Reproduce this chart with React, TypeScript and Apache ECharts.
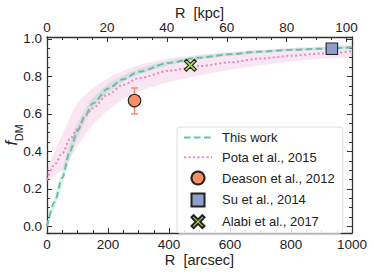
import React, { useEffect, useRef } from 'react';
import * as echarts from 'echarts';

// R grid in arcsec
const R_ARCSEC = [0, 25, 50, 75, 100, 125, 150, 200, 250, 300, 400, 500, 600, 700, 800, 900, 1000];
// "This work" median and band
const THIS_WORK = [0.0, 0.13, 0.26, 0.4, 0.51, 0.59, 0.655, 0.735, 0.785, 0.825, 0.872, 0.9, 0.918, 0.932, 0.942, 0.948, 0.955];
const THIS_WORK_LO = [0.0, 0.1, 0.22, 0.36, 0.47, 0.56, 0.63, 0.715, 0.77, 0.81, 0.86, 0.89, 0.91, 0.925, 0.935, 0.942, 0.949];
const THIS_WORK_HI = [0.025, 0.16, 0.3, 0.44, 0.55, 0.625, 0.685, 0.76, 0.805, 0.84, 0.885, 0.91, 0.926, 0.939, 0.949, 0.954, 0.96];
// Pota et al. 2015 median and band
const POTA = [0.25, 0.33, 0.39, 0.465, 0.52, 0.59, 0.63, 0.705, 0.755, 0.79, 0.83, 0.855, 0.875, 0.895, 0.91, 0.922, 0.934];
const POTA_LO = [0.235, 0.27, 0.3, 0.36, 0.43, 0.49, 0.54, 0.62, 0.68, 0.72, 0.77, 0.805, 0.835, 0.86, 0.88, 0.895, 0.907];
const POTA_HI = [0.3, 0.4, 0.49, 0.58, 0.655, 0.7, 0.735, 0.79, 0.83, 0.86, 0.895, 0.915, 0.93, 0.942, 0.952, 0.958, 0.965];
// Single measurements: [R arcsec, fDM]
const DEASON = [287, 0.671];
const DEASON_ERR = [0.6, 0.738];
const SU = [934, 0.947];
const ALABI = [470, 0.859];

const X_MAJOR = [0, 200, 400, 600, 800, 1000];
const X_MINOR = [50, 100, 150, 250, 300, 350, 450, 500, 550, 650, 700, 750, 850, 900, 950];
const KPC_MAJOR = [0, 20, 40, 60, 80, 100];
const KPC_MINOR = [5, 10, 15, 25, 30, 35, 45, 50, 55, 65, 70, 75, 85, 90, 95];
const Y_MAJOR = [0, 0.2, 0.4, 0.6, 0.8, 1.0];
const Y_MINOR = [0.05, 0.1, 0.15, 0.25, 0.3, 0.35, 0.45, 0.5, 0.55, 0.65, 0.7, 0.75, 0.85, 0.9, 0.95];

const FONT = '"Liberation Sans", Arial, sans-serif';
const FRAME = '#333333';
const GREEN = '#66c2a5';
const PINK = '#e78ac3';
const X_PATH = 'path://M1,0 L3,2 L5,0 L6,1 L4,3 L6,5 L5,6 L3,4 L1,6 L0,5 L2,3 L0,1 Z';
const SQ_PATH = 'path://M0,0 L10,0 L10,10 L0,10 Z';
const CIRCLE_PATH = 'path://M5,0 A5,5 0 1 1 4.999,0 Z';

function bandSeries(lo: number[], hi: number[], fill: string) {
  return {
    type: 'custom',
    xAxisIndex: 0,
    yAxisIndex: 0,
    silent: true,
    z: 1,
    data: [[0, 0]],
    renderItem: (_p: any, api: any) => {
      const up = R_ARCSEC.map((r, i) => api.coord([r, hi[i]]));
      const dn = R_ARCSEC.map((r, i) => api.coord([r, lo[i]])).reverse();
      return { type: 'polygon', shape: { points: up.concat(dn), smooth: 0.2 }, style: { fill } };
    },
  };
}

function tickAxis(pos: string, min: number, max: number, values: number[], len: number, line: boolean, labels: boolean, extra: any = {}) {
  return {
    type: 'value',
    position: pos,
    min,
    max,
    splitLine: { show: false },
    axisLine: { show: line, onZero: false, lineStyle: { color: FRAME, width: 1.3 } },
    axisTick: { show: true, inside: true, length: len, customValues: values, lineStyle: { color: FRAME, width: 1 } },
    axisLabel: labels
      ? { show: true, customValues: values, fontFamily: FONT, fontSize: 13.5, color: '#222', formatter: (v: number) => String(v), ...(extra.label || {}) }
      : { show: false },
    ...(extra.axis || {}),
  };
}

export default function App() {
  const ref = useRef<HTMLDivElement>(null);
  useEffect(() => {
    if (!ref.current) return;
    const chart = echarts.init(ref.current, null, { renderer: 'svg' });
    const line = (d: number[]) => R_ARCSEC.map((r, i) => [r, d[i]]);
    const hidden = { opacity: 0, color: 'transparent', borderWidth: 0 };
    chart.setOption({
      animation: false,
      backgroundColor: '#ffffff',
      grid: { left: 47, right: 22, top: 37, bottom: 42, containLabel: false, outerBoundsMode: 'none' },
      xAxis: [
        tickAxis('bottom', 0, 1000, X_MAJOR, 5, true, true, {
          label: { margin: 4 },
          axis: {
            name: 'R  [arcsec]',
            nameLocation: 'middle',
            nameGap: 19,
            nameMoveOverlap: false,
            nameTextStyle: { fontFamily: FONT, fontSize: 14.5, color: '#222', verticalAlign: 'top' },
          },
        }),
        tickAxis('bottom', 0, 1000, X_MINOR, 3, false, false),
        tickAxis('top', 0, 101.8, KPC_MAJOR, 5, true, true, {
          label: { margin: 3 },
          axis: {
            name: 'R  [kpc]',
            nameLocation: 'middle',
            nameGap: 17,
            nameMoveOverlap: false,
            nameTextStyle: { fontFamily: FONT, fontSize: 14.5, color: '#222', verticalAlign: 'bottom' },
          },
        }),
        tickAxis('top', 0, 101.8, KPC_MINOR, 3, false, false),
      ],
      yAxis: [
        tickAxis('left', -0.035, 1.01, Y_MAJOR, 5, true, true, {
          label: { margin: 5, formatter: (v: number) => v.toFixed(1) },
          axis: {
            name: '{f|f}{s|DM}',
            nameLocation: 'middle',
            nameRotate: 90,
            nameGap: 26,
            nameMoveOverlap: false,
            nameTextStyle: {
              rich: {
                f: { fontFamily: FONT, fontStyle: 'italic', fontSize: 16, color: '#222', lineHeight: 20, verticalAlign: 'middle' },
                s: { fontFamily: FONT, fontSize: 10.5, color: '#222', lineHeight: 20, verticalAlign: 'bottom', padding: [0, 0, -3, 0] },
              },
            },
          },
        }),
        tickAxis('left', -0.035, 1.01, Y_MINOR, 3, false, false),
        tickAxis('right', -0.035, 1.01, Y_MAJOR, 5, true, false),
        tickAxis('right', -0.035, 1.01, Y_MINOR, 3, false, false),
      ],
      legend: {
        orient: 'vertical',
        left: 177,
        top: 127,
        padding: [4, 8, 4, 6],
        itemWidth: 28,
        itemHeight: 13,
        itemGap: 6.8,
        backgroundColor: 'rgba(255,255,255,0.85)',
        borderColor: '#dddddd',
        borderWidth: 1,
        borderRadius: 3,
        textStyle: { fontFamily: FONT, fontSize: 13, color: '#222', padding: [0, 0, 0, 5] },
        data: [
          { name: 'This work', itemStyle: hidden },
          { name: 'Pota et al., 2015', itemStyle: hidden },
          { name: 'Deason et al., 2012', icon: CIRCLE_PATH },
          { name: 'Su et al., 2014', icon: SQ_PATH },
          { name: 'Alabi et al., 2017', icon: X_PATH },
        ],
      },
      series: [
        bandSeries(POTA_LO, POTA_HI, 'rgba(231,138,195,0.22)'),
        bandSeries(THIS_WORK_LO, THIS_WORK_HI, 'rgba(102,194,165,0.22)'),
        {
          name: 'This work',
          type: 'line',
          xAxisIndex: 0,
          yAxisIndex: 0,
          data: line(THIS_WORK),
          showSymbol: false,
          symbol: 'none',
          smooth: 0.3,
          smoothMonotone: 'x',
          z: 3,
          lineStyle: { color: GREEN, width: 2, type: [6.5, 3.5] },
          itemStyle: { color: GREEN },
        },
        {
          name: 'Pota et al., 2015',
          type: 'line',
          xAxisIndex: 0,
          yAxisIndex: 0,
          data: line(POTA),
          showSymbol: false,
          symbol: 'none',
          smooth: 0.3,
          smoothMonotone: 'x',
          z: 3,
          lineStyle: { color: PINK, width: 2, type: [2, 2.5] },
          itemStyle: { color: PINK },
        },
        {
          type: 'custom',
          xAxisIndex: 0,
          yAxisIndex: 0,
          silent: true,
          z: 4,
          data: [[DEASON[0], DEASON_ERR[0], DEASON_ERR[1]]],
          renderItem: (_p: any, api: any) => {
            const lo = api.coord([api.value(0), api.value(1)]);
            const hi = api.coord([api.value(0), api.value(2)]);
            const st = { stroke: '#fc8d62', lineWidth: 1.5 };
            return {
              type: 'group',
              children: [
                { type: 'line', shape: { x1: lo[0], y1: lo[1], x2: hi[0], y2: hi[1] }, style: st },
                { type: 'line', shape: { x1: lo[0] - 3.5, y1: lo[1], x2: lo[0] + 3.5, y2: lo[1] }, style: st },
                { type: 'line', shape: { x1: hi[0] - 3.5, y1: hi[1], x2: hi[0] + 3.5, y2: hi[1] }, style: st },
              ],
            };
          },
        },
        {
          name: 'Deason et al., 2012',
          type: 'scatter',
          xAxisIndex: 0,
          yAxisIndex: 0,
          z: 5,
          symbol: 'circle',
          symbolSize: 12.5,
          data: [DEASON],
          itemStyle: { color: '#fc8d62', borderColor: '#222', borderWidth: 1.1, opacity: 1 },
        },
        {
          name: 'Su et al., 2014',
          type: 'scatter',
          xAxisIndex: 0,
          yAxisIndex: 0,
          z: 5,
          symbol: 'rect',
          symbolSize: 11.5,
          data: [SU],
          itemStyle: { color: '#8da0cb', borderColor: '#222', borderWidth: 1.1, opacity: 1 },
        },
        {
          name: 'Alabi et al., 2017',
          type: 'scatter',
          xAxisIndex: 0,
          yAxisIndex: 0,
          z: 5,
          symbol: X_PATH,
          symbolSize: 12,
          data: [ALABI],
          itemStyle: { color: '#a6d854', borderColor: '#222', borderWidth: 1.1, opacity: 1 },
        },
      ],
    });
    return () => chart.dispose();
  }, []);
  return <div ref={ref} style={{ position: 'fixed', left: 0, top: 0, width: 374, height: 275 }} />;
}
